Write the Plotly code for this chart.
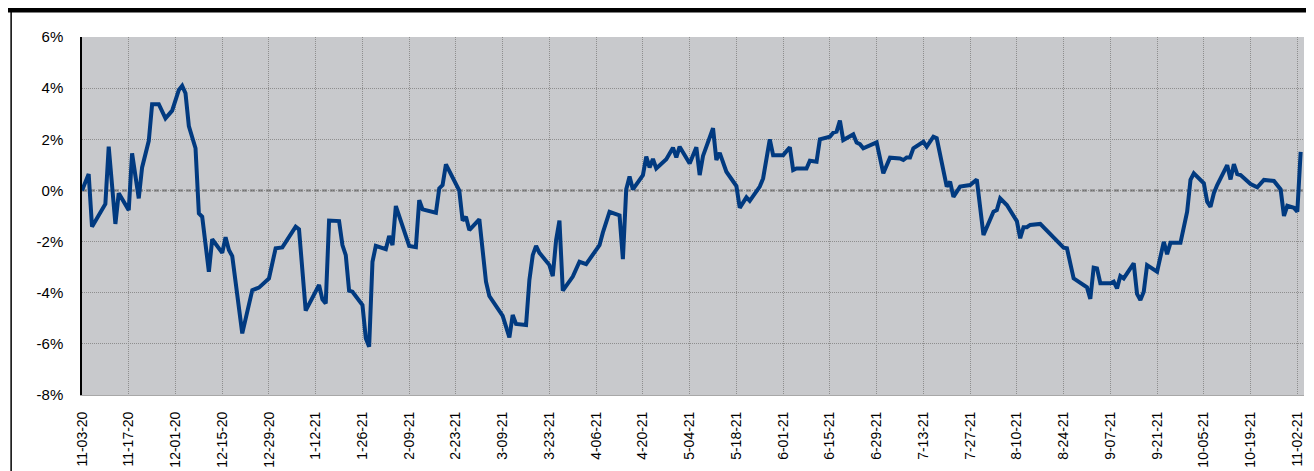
import pandas as pd
import plotly.graph_objects as go

# ---- data ----
start_date = "2020-11-03"
days_since_start = [
    0, 2, 3, 7, 8, 10, 11, 14, 15, 17, 18, 20, 21, 23, 25, 27, 29, 30, 31, 32,
    34, 35, 36, 38, 39, 42, 43, 44, 45, 48, 51, 53, 56, 58, 60, 62, 64, 65, 67, 71,
    72, 73, 74, 77, 78, 79, 80, 81, 84, 85, 86, 87, 88, 91, 92, 93, 94, 98, 100, 101,
    102, 106, 107, 108, 109, 113, 114, 115, 116, 119, 121, 122, 125, 126, 128, 129, 130, 133, 134, 135,
    136, 137, 140, 141, 142, 143, 144, 147, 149, 151, 155, 156, 158, 161, 162, 163, 164, 165, 168, 169,
    170, 171, 172, 175, 177, 178, 179, 182, 184, 185, 186, 189, 190, 191, 193, 196, 197, 199, 200, 203,
    204, 206, 207, 210, 212, 213, 214, 217, 218, 220, 221, 224, 225, 226, 227, 228, 231, 232, 233, 234,
    238, 240, 242, 245, 246, 247, 248, 249, 252, 253, 255, 256, 259, 260, 261, 263, 266, 268, 270, 273,
    274, 275, 277, 280, 281, 282, 283, 284, 287, 290, 294, 295, 297, 301, 302, 303, 304, 305, 308, 309,
    310, 311, 312, 315, 316, 317, 318, 319, 322, 324, 325, 326, 329, 331, 332, 333, 336, 337, 338, 339,
    340, 343, 344, 345, 346, 347, 350, 352, 354, 357, 359, 360, 361, 363, 364, 365,
]
values_pct = [
    0.00, 0.64, -1.42, -0.53, 1.71, -1.31, -0.11, -0.77, 1.45, -0.31, 0.90, 1.94, 3.37, 3.37, 2.82, 3.12, 3.93, 4.09, 3.80, 2.52,
    1.65, -0.90, -1.03, -3.18, -1.91, -2.44, -1.83, -2.33, -2.57, -5.59, -3.90, -3.80, -3.44, -2.26, -2.23, -1.81, -1.42, -1.52, -4.70, -3.70,
    -4.26, -4.42, -1.18, -1.20, -2.14, -2.53, -3.92, -3.96, -4.48, -5.78, -6.11, -2.79, -2.17, -2.30, -1.78, -2.14, -0.61, -2.17, -2.22, -0.38,
    -0.74, -0.87, 0.08, 0.21, 1.02, -0.01, -1.18, -1.03, -1.55, -1.13, -3.57, -4.13, -4.77, -4.91, -5.75, -4.87, -5.22, -5.26, -3.50, -2.53,
    -2.17, -2.44, -2.92, -3.35, -1.94, -1.18, -3.92, -3.37, -2.79, -2.88, -2.14, -1.65, -0.84, -0.98, -2.69, 0.04, 0.54, 0.04, 0.60, 1.32,
    0.90, 1.23, 0.86, 1.22, 1.67, 1.29, 1.71, 1.05, 1.69, 0.60, 1.35, 2.43, 1.19, 1.47, 0.73, 0.17, -0.68, -0.27, -0.41, 0.15,
    0.47, 2.00, 1.38, 1.38, 1.69, 0.80, 0.86, 0.86, 1.16, 1.12, 2.00, 2.10, 2.26, 2.30, 2.73, 1.97, 2.19, 1.87, 1.81, 1.65,
    1.88, 0.67, 1.28, 1.25, 1.19, 1.29, 1.29, 1.65, 1.90, 1.71, 2.10, 2.04, 0.15, 0.34, -0.25, 0.15, 0.21, 0.43, -1.74, -0.83,
    -0.77, -0.31, -0.57, -1.20, -1.87, -1.44, -1.44, -1.35, -1.31, -1.72, -2.24, -2.26, -3.44, -3.79, -4.24, -3.02, -3.05, -3.63, -3.63, -3.57,
    -3.83, -3.35, -3.44, -2.85, -4.05, -4.29, -3.96, -2.92, -3.18, -2.01, -2.49, -2.05, -2.05, -0.83, 0.41, 0.67, 0.28, -0.44, -0.64, -0.11,
    0.21, 0.99, 0.43, 1.03, 0.64, 0.60, 0.25, 0.12, 0.41, 0.37, 0.04, -1.00, -0.60, -0.68, -0.83, 1.51,
]

x_tick_dates = [
    "2020-11-03", "2020-11-17", "2020-12-01", "2020-12-15", "2020-12-29", "2021-01-12", "2021-01-26",
    "2021-02-09", "2021-02-23", "2021-03-09", "2021-03-23", "2021-04-06", "2021-04-20", "2021-05-04",
    "2021-05-18", "2021-06-01", "2021-06-15", "2021-06-29", "2021-07-13", "2021-07-27", "2021-08-10",
    "2021-08-24", "2021-09-07", "2021-09-21", "2021-10-05", "2021-10-19", "2021-11-02",
]
x_tick_labels = [
    "11-03-20", "11-17-20", "12-01-20", "12-15-20", "12-29-20", "1-12-21", "1-26-21",
    "2-09-21", "2-23-21", "3-09-21", "3-23-21", "4-06-21", "4-20-21", "5-04-21",
    "5-18-21", "6-01-21", "6-15-21", "6-29-21", "7-13-21", "7-27-21", "8-10-21",
    "8-24-21", "9-07-21", "9-21-21", "10-05-21", "10-19-21", "11-02-21",
]
y_tick_values = [-8, -6, -4, -2, 0, 2, 4, 6]
y_tick_labels = ["-8%", "-6%", "-4%", "-2%", "0%", "2%", "4%", "6%"]

dates = pd.Timestamp(start_date) + pd.to_timedelta(days_since_start, unit="D")

fig = go.Figure()
fig.add_trace(go.Scatter(
    x=dates, y=values_pct, mode="lines",
    line=dict(color="#013A80", width=4),
    hoverinfo="x+y", showlegend=False,
))

FONT = "Liberation Sans, Arial, sans-serif"
GRID = dict(showgrid=True, gridcolor="#8E8E8E", gridwidth=1, griddash="1px,1px")

# the page body adds an 8px offset, so the figure is sized to fill the rest
fig.update_layout(
    width=1306, height=463,
    margin=dict(l=74, r=10, t=29, b=76, pad=0, autoexpand=False),
    paper_bgcolor="white",
    plot_bgcolor="#C8C9CC",
    font=dict(family=FONT, size=14, color="#000000"),
    showlegend=False,
    xaxis=dict(
        type="date",
        range=["2020-11-03", "2021-11-04"],
        tickmode="array", tickvals=x_tick_dates, ticktext=x_tick_labels,
        tickangle=-90,
        tickfont=dict(family=FONT, size=14, color="#000000"),
        ticks="", ticklabelstandoff=10,
        showline=True, linecolor="#A8A8A8", linewidth=1,
        zeroline=False, fixedrange=True, automargin=False,
        **GRID,
    ),
    yaxis=dict(
        range=[-8, 6],
        tickmode="array", tickvals=y_tick_values, ticktext=y_tick_labels,
        tickfont=dict(family=FONT, size=15, color="#000000"),
        ticks="", ticklabelstandoff=14,
        showline=True, linecolor="#000000", linewidth=1.5,
        zeroline=False, fixedrange=True, automargin=False,
        **GRID,
    ),
    shapes=[
        # dashed zero line
        dict(type="line", xref="paper", yref="y", x0=0, x1=1, y0=0, y1=0,
             line=dict(color="#6E6E6E", width=2, dash="5px,3px"), layer="below"),
        # thick black bar at top of frame
        dict(type="rect", xref="paper", yref="paper",
             x0=-0.0625, x1=1.01, y0=1.0685, y1=1.09,
             fillcolor="#000000", line=dict(width=0), layer="above"),
        # thin left frame line
        dict(type="line", xref="paper", yref="paper",
             x0=-0.058, x1=-0.058, y0=1.07, y1=-0.22,
             line=dict(color="#000000", width=1.5), layer="above"),
    ],
)

fig.write_html("out.html")
